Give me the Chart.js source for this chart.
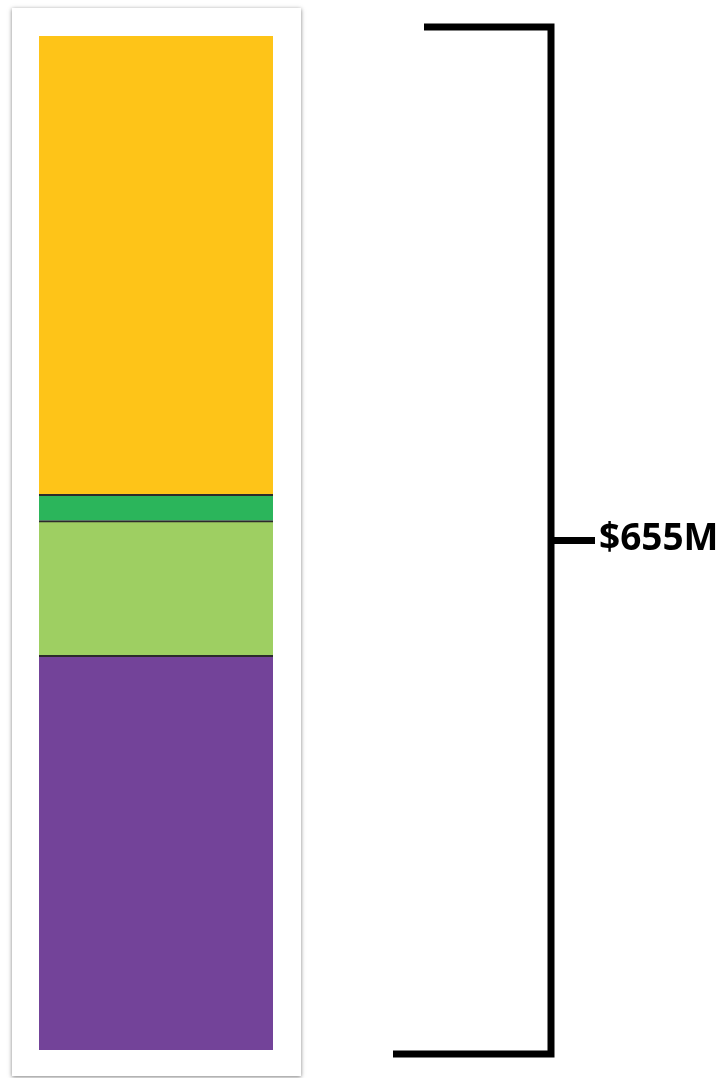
<!DOCTYPE html>
<html>
<head>
<meta charset="utf-8">
<script src="https://cdn.jsdelivr.net/npm/chart.js@4"></script>
<style>
  html, body { margin: 0; padding: 0; background: #fff; }
  #wrap { width: 727px; height: 1078px; }
</style>
</head>
<body>
<div id="wrap"><canvas id="chart" width="727" height="1078"></canvas></div>
<script>
const categories = ['Total']
const segmentLabels = ['Segment 1', 'Segment 2', 'Segment 3', 'Segment 4']
const segmentValues = [255, 87, 17, 296]
const segmentColors = ['#734399', '#9ecf62', '#2bb55b', '#fec418']
const totalLabel = '$655M'

const total = segmentValues.reduce((a, b) => a + b, 0)

// white card with a soft grey shadow behind the bar
const cardPlugin = {
  id: 'card',
  beforeDraw(chart) {
    const ctx = chart.ctx
    ctx.save()
    ctx.shadowColor = 'rgba(0,0,0,0.5)'
    ctx.shadowBlur = 4
    ctx.shadowOffsetY = 1
    ctx.fillStyle = '#fff'
    ctx.fillRect(12, 8, 289, 1068)
    ctx.restore()
  }
}

// bracket spanning the full stack, with the total label
const bracketPlugin = {
  id: 'bracket',
  afterDraw(chart) {
    const ctx = chart.ctx
    const y = chart.scales.y
    const top = y.getPixelForValue(total) - 9
    const bot = y.getPixelForValue(0) + 4
    const mid = (top + bot) / 2
    const x = 551
    ctx.save()
    ctx.strokeStyle = '#000'
    ctx.lineWidth = 7
    ctx.lineJoin = 'miter'
    ctx.beginPath()
    ctx.moveTo(424, top)
    ctx.lineTo(x, top)
    ctx.lineTo(x, bot)
    ctx.lineTo(393, bot)
    ctx.stroke()
    ctx.beginPath()
    ctx.moveTo(x, mid)
    ctx.lineTo(595, mid)
    ctx.stroke()
    ctx.fillStyle = '#000'
    ctx.font = 'bold 37px "Open Sans"'
    ctx.textBaseline = 'middle'
    ctx.fillText(totalLabel, 599, mid - 1)
    ctx.restore()
  }
}

const last = segmentValues.length - 1

new Chart(document.getElementById('chart'), {
  type: 'bar',
  data: {
    labels: categories,
    datasets: segmentValues.map((v, i) => ({
      label: segmentLabels[i],
      data: [v],
      backgroundColor: segmentColors[i],
      borderColor: '#2b2b2b',
      // dark divider along the top of every segment except the topmost
      borderWidth: i === last ? 0 : { top: 2, bottom: 0, left: 0, right: 0 },
      borderSkipped: false,
      barPercentage: 1,
      categoryPercentage: 1
    }))
  },
  options: {
    responsive: false,
    animation: false,
    layout: { padding: { left: 39, right: 454, top: 36, bottom: 28 } },
    plugins: {
      legend: { display: false },
      tooltip: { enabled: false }
    },
    scales: {
      x: { stacked: true, display: false },
      y: { stacked: true, display: false, min: 0, max: total }
    }
  },
  plugins: [cardPlugin, bracketPlugin]
})
</script>
</body>
</html>
